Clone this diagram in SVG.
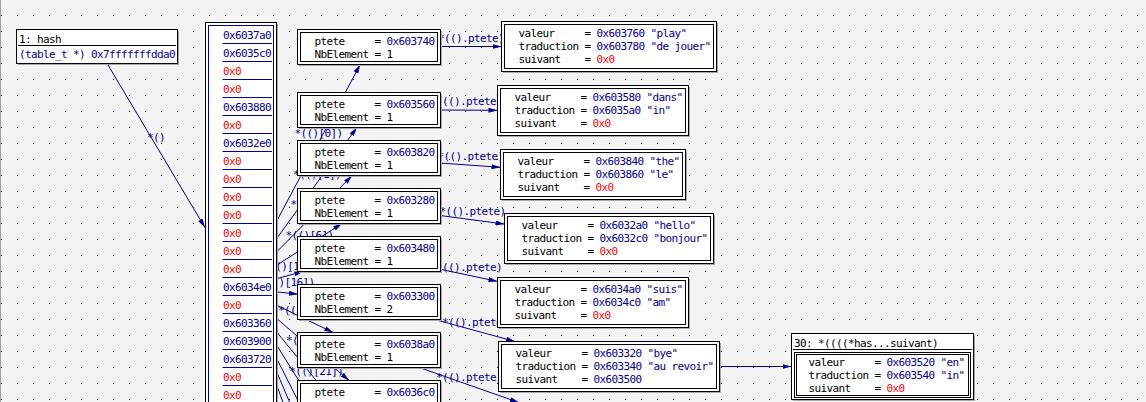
<svg xmlns="http://www.w3.org/2000/svg" width="1146" height="402" viewBox="0 0 1146 402">
<defs>
<pattern id="grid" x="1" y="15" width="16" height="16" patternUnits="userSpaceOnUse"><rect width="1" height="1" fill="#000"/></pattern>
<marker id="ah" viewBox="0 0 9 5" refX="9" refY="2.5" markerWidth="9" markerHeight="5" orient="auto" markerUnits="userSpaceOnUse"><path d="M0,0L9,2.5L0,5z" fill="#00008b"/></marker>
</defs>
<style>
.t{font-family:"DejaVu Sans Mono","Liberation Mono",monospace;font-size:11px;letter-spacing:-0.62px;white-space:pre}
.k{fill:#000}.v{fill:#00008b}.n{fill:#f00}
.e{stroke:#00008b;stroke-width:1;fill:none;marker-end:url(#ah)}
.box{fill:#fff;stroke:#000;stroke-width:1}
.sh{fill:#a8a8a8}
.in{fill:none;stroke:#000;stroke-width:1}
.sep{stroke:#00008b;stroke-width:1}
</style>
<rect width="1146" height="402" fill="#f4f4f4"/>
<rect width="1146" height="402" fill="url(#grid)"/>
<line x1="0.5" y1="0" x2="0.5" y2="402" stroke="#a0a0a0"/>

<g id="connectors">
<line class="e" x1="107.1" y1="63.5" x2="205" y2="227.6"/>
<text class="t v" x="147" y="140.5">*()</text>

<line class="e" x1="277" y1="220.5" x2="360.2" y2="64.5"/>
<line class="e" x1="277" y1="238.1" x2="356.9" y2="127.5"/>
<line class="e" x1="277" y1="251.6" x2="352.2" y2="175.5"/>
<line class="e" x1="277" y1="265" x2="342.1" y2="223.5"/>
<line class="e" x1="277" y1="278.5" x2="303.4" y2="271.5"/>
<line class="e" x1="277" y1="291.9" x2="298" y2="294.2"/>
<line class="e" x1="277" y1="305.4" x2="333.2" y2="332.5"/>
<line class="e" x1="277" y1="318.8" x2="349.1" y2="380.5"/>
<line class="e" x1="277" y1="332.3" x2="355.3" y2="428.5"/>
<line class="e" x1="277" y1="345.7" x2="358.6" y2="476.5"/>
<line class="e" x1="277" y1="359.2" x2="360.6" y2="524.5"/>
<line class="e" x1="277" y1="372.6" x2="362.1" y2="572.5"/>
<line class="e" x1="277" y1="386.1" x2="363.1" y2="620.5"/>
<text class="t v" x="294.6" y="137.2">*(()[0])</text>
<text class="t v" x="293" y="177.5">*(()[1])</text>
<text class="t v" x="290.6" y="208.3">*(()[4])</text>
<text class="t v" x="285.6" y="239">*(()[6])</text>
<text class="t v" x="263.2" y="269.7">*(()[14])</text>
<text class="t v" x="260.5" y="286">*(()[16])</text>
<text class="t v" x="278.1" y="313.7">*(()[17])</text>
<text class="t v" x="286" y="344.3">*(()[18])</text>
<text class="t v" x="289.2" y="375.1">*(()[21])</text>

<line class="e" x1="441" y1="46.5" x2="501.5" y2="46.5"/>
<line class="e" x1="441" y1="110" x2="497.5" y2="110.3"/>
<line class="e" x1="441" y1="163.1" x2="500.5" y2="167.3"/>
<line class="e" x1="441" y1="215.6" x2="504.5" y2="224.1"/>
<line class="e" x1="441" y1="269.4" x2="497.5" y2="281.4"/>
<line class="e" x1="434.8" y1="319.5" x2="515.1" y2="341.5"/>
<line class="e" x1="419.3" y1="367.5" x2="518.9" y2="402.5"/>
<line class="e" x1="719.5" y1="366.5" x2="791.5" y2="366.5"/>
<text class="t v" x="438" y="41.5">*(().ptete)</text>
<text class="t v" x="436" y="104.5">*(().ptete)</text>
<text class="t v" x="437.5" y="160">*(().ptete)</text>
<text class="t v" x="439.5" y="214.5">*(().ptete)</text>
<text class="t v" x="436" y="271">*(().ptete)</text>
<text class="t v" x="442" y="325.5">*(().ptete)</text>
<text class="t v" x="436" y="381">*(().ptete)</text>
</g>

<g id="hash">
<rect class="sh" x="18" y="31" width="161" height="34"/>
<rect class="box" x="16.5" y="29.5" width="161" height="34"/>
<line x1="18" y1="45.5" x2="176" y2="45.5" stroke="#000"/>
<text class="t k" x="19" y="42.5">1: hash</text>
<text class="t v" x="19" y="58">(table_t *) 0x7fffffffdda0</text>
</g>

<g id="array">
<rect class="sh" x="207" y="24" width="71" height="400"/>
<rect x="205.5" y="22.5" width="71" height="400" fill="#fff" stroke="#000"/>
<rect x="208.5" y="25.5" width="65" height="400" fill="none" stroke="#00008b"/>
<g class="sep">
<line x1="222.5" y1="43.5" x2="272" y2="43.5"/><line x1="222.5" y1="61.5" x2="272" y2="61.5"/><line x1="222.5" y1="79.5" x2="272" y2="79.5"/><line x1="222.5" y1="97.5" x2="272" y2="97.5"/><line x1="222.5" y1="115.5" x2="272" y2="115.5"/><line x1="222.5" y1="133.5" x2="272" y2="133.5"/><line x1="222.5" y1="151.5" x2="272" y2="151.5"/><line x1="222.5" y1="169.5" x2="272" y2="169.5"/><line x1="222.5" y1="187.5" x2="272" y2="187.5"/><line x1="222.5" y1="205.5" x2="272" y2="205.5"/><line x1="222.5" y1="223.5" x2="272" y2="223.5"/><line x1="222.5" y1="241.5" x2="272" y2="241.5"/><line x1="222.5" y1="259.5" x2="272" y2="259.5"/><line x1="222.5" y1="277.5" x2="272" y2="277.5"/><line x1="222.5" y1="295.5" x2="272" y2="295.5"/><line x1="222.5" y1="313.5" x2="272" y2="313.5"/><line x1="222.5" y1="331.5" x2="272" y2="331.5"/><line x1="222.5" y1="349.5" x2="272" y2="349.5"/><line x1="222.5" y1="367.5" x2="272" y2="367.5"/><line x1="222.5" y1="385.5" x2="272" y2="385.5"/>
</g>
<text class="t v" x="223" y="39">0x6037a0</text>
<text class="t v" x="223" y="57">0x6035c0</text>
<text class="t n" x="223" y="75">0x0</text>
<text class="t n" x="223" y="93">0x0</text>
<text class="t v" x="223" y="111">0x603880</text>
<text class="t n" x="223" y="129">0x0</text>
<text class="t v" x="223" y="147">0x6032e0</text>
<text class="t n" x="223" y="165">0x0</text>
<text class="t n" x="223" y="183">0x0</text>
<text class="t n" x="223" y="201">0x0</text>
<text class="t n" x="223" y="219">0x0</text>
<text class="t n" x="223" y="237">0x0</text>
<text class="t n" x="223" y="255">0x0</text>
<text class="t n" x="223" y="273">0x0</text>
<text class="t v" x="223" y="291">0x6034e0</text>
<text class="t n" x="223" y="309">0x0</text>
<text class="t v" x="223" y="327">0x603360</text>
<text class="t v" x="223" y="345">0x603900</text>
<text class="t v" x="223" y="363">0x603720</text>
<text class="t n" x="223" y="381">0x0</text>
<text class="t n" x="223" y="399">0x0</text>
</g>

<g id="elem0">
<rect class="sh" x="299" y="31" width="143" height="35"/><rect class="box" x="297.5" y="29.5" width="143" height="35"/><rect class="in" x="300.5" y="32.5" width="137" height="29"/>
<text class="t k" x="314.5" y="44.7">ptete</text><text class="t k" x="374.5" y="44.7">=</text><text class="t v" x="386.5" y="44.7">0x603740</text>
<text class="t k" x="314.5" y="57.7">NbElement</text><text class="t k" x="374.5" y="57.7">=</text><text class="t k" x="386.5" y="57.7">1</text>
</g>
<g id="elem1">
<rect class="sh" x="299" y="94" width="143" height="35"/><rect class="box" x="297.5" y="92.5" width="143" height="35"/><rect class="in" x="300.5" y="95.5" width="137" height="29"/>
<text class="t k" x="314.5" y="107.7">ptete</text><text class="t k" x="374.5" y="107.7">=</text><text class="t v" x="386.5" y="107.7">0x603560</text>
<text class="t k" x="314.5" y="120.7">NbElement</text><text class="t k" x="374.5" y="120.7">=</text><text class="t k" x="386.5" y="120.7">1</text>
</g>
<g id="elem4">
<rect class="sh" x="299" y="142" width="143" height="35"/><rect class="box" x="297.5" y="140.5" width="143" height="35"/><rect class="in" x="300.5" y="143.5" width="137" height="29"/>
<text class="t k" x="314.5" y="155.7">ptete</text><text class="t k" x="374.5" y="155.7">=</text><text class="t v" x="386.5" y="155.7">0x603820</text>
<text class="t k" x="314.5" y="168.7">NbElement</text><text class="t k" x="374.5" y="168.7">=</text><text class="t k" x="386.5" y="168.7">1</text>
</g>
<g id="elem6">
<rect class="sh" x="299" y="190" width="143" height="35"/><rect class="box" x="297.5" y="188.5" width="143" height="35"/><rect class="in" x="300.5" y="191.5" width="137" height="29"/>
<text class="t k" x="314.5" y="203.7">ptete</text><text class="t k" x="374.5" y="203.7">=</text><text class="t v" x="386.5" y="203.7">0x603280</text>
<text class="t k" x="314.5" y="216.7">NbElement</text><text class="t k" x="374.5" y="216.7">=</text><text class="t k" x="386.5" y="216.7">1</text>
</g>
<g id="elem14">
<rect class="sh" x="299" y="238" width="143" height="35"/><rect class="box" x="297.5" y="236.5" width="143" height="35"/><rect class="in" x="300.5" y="239.5" width="137" height="29"/>
<text class="t k" x="314.5" y="251.7">ptete</text><text class="t k" x="374.5" y="251.7">=</text><text class="t v" x="386.5" y="251.7">0x603480</text>
<text class="t k" x="314.5" y="264.7">NbElement</text><text class="t k" x="374.5" y="264.7">=</text><text class="t k" x="386.5" y="264.7">1</text>
</g>
<g id="elem16">
<rect class="sh" x="299" y="286" width="143" height="35"/><rect class="box" x="297.5" y="284.5" width="143" height="35"/><rect class="in" x="300.5" y="287.5" width="137" height="29"/>
<text class="t k" x="314.5" y="299.7">ptete</text><text class="t k" x="374.5" y="299.7">=</text><text class="t v" x="386.5" y="299.7">0x603300</text>
<text class="t k" x="314.5" y="312.7">NbElement</text><text class="t k" x="374.5" y="312.7">=</text><text class="t k" x="386.5" y="312.7">2</text>
</g>
<g id="elem17">
<rect class="sh" x="299" y="334" width="143" height="35"/><rect class="box" x="297.5" y="332.5" width="143" height="35"/><rect class="in" x="300.5" y="335.5" width="137" height="29"/>
<text class="t k" x="314.5" y="347.7">ptete</text><text class="t k" x="374.5" y="347.7">=</text><text class="t v" x="386.5" y="347.7">0x6038a0</text>
<text class="t k" x="314.5" y="360.7">NbElement</text><text class="t k" x="374.5" y="360.7">=</text><text class="t k" x="386.5" y="360.7">1</text>
</g>
<g id="elem18">
<rect class="sh" x="299" y="382" width="143" height="35"/><rect class="box" x="297.5" y="380.5" width="143" height="35"/><rect class="in" x="300.5" y="383.5" width="137" height="29"/>
<text class="t k" x="314.5" y="395.7">ptete</text><text class="t k" x="374.5" y="395.7">=</text><text class="t v" x="386.5" y="395.7">0x6036c0</text>
</g>

<g id="s1">
<rect class="sh" x="503" y="23" width="215" height="50"/><rect class="box" x="501.5" y="21.5" width="215" height="50"/><rect class="in" x="504.5" y="24.5" width="209" height="44"/>
<text class="t k" x="518.5" y="37">valeur</text><text class="t k" x="584.5" y="37">=</text><text class="t v" x="596.5" y="37">0x603760 "play"</text>
<text class="t k" x="518.5" y="50">traduction</text><text class="t k" x="584.5" y="50">=</text><text class="t v" x="596.5" y="50">0x603780 "de jouer"</text>
<text class="t k" x="518.5" y="63">suivant</text><text class="t k" x="584.5" y="63">=</text><text class="t n" x="596.5" y="63">0x0</text>
</g>
<g id="s2">
<rect class="sh" x="499" y="87" width="191" height="50"/><rect class="box" x="497.5" y="85.5" width="191" height="50"/><rect class="in" x="500.5" y="88.5" width="185" height="44"/>
<text class="t k" x="514.5" y="101">valeur</text><text class="t k" x="580.5" y="101">=</text><text class="t v" x="592.5" y="101">0x603580 "dans"</text>
<text class="t k" x="514.5" y="114">traduction</text><text class="t k" x="580.5" y="114">=</text><text class="t v" x="592.5" y="114">0x6035a0 "in"</text>
<text class="t k" x="514.5" y="127">suivant</text><text class="t k" x="580.5" y="127">=</text><text class="t n" x="592.5" y="127">0x0</text>
</g>
<g id="s3">
<rect class="sh" x="502" y="151" width="185" height="50"/><rect class="box" x="500.5" y="149.5" width="185" height="50"/><rect class="in" x="503.5" y="152.5" width="179" height="44"/>
<text class="t k" x="517.5" y="165">valeur</text><text class="t k" x="583.5" y="165">=</text><text class="t v" x="595.5" y="165">0x603840 "the"</text>
<text class="t k" x="517.5" y="178">traduction</text><text class="t k" x="583.5" y="178">=</text><text class="t v" x="595.5" y="178">0x603860 "le"</text>
<text class="t k" x="517.5" y="191">suivant</text><text class="t k" x="583.5" y="191">=</text><text class="t n" x="595.5" y="191">0x0</text>
</g>
<g id="s4">
<rect class="sh" x="506" y="215" width="209" height="50"/><rect class="box" x="504.5" y="213.5" width="209" height="50"/><rect class="in" x="507.5" y="216.5" width="203" height="44"/>
<text class="t k" x="521.5" y="229">valeur</text><text class="t k" x="587.5" y="229">=</text><text class="t v" x="599.5" y="229">0x6032a0 "hello"</text>
<text class="t k" x="521.5" y="242">traduction</text><text class="t k" x="587.5" y="242">=</text><text class="t v" x="599.5" y="242">0x6032c0 "bonjour"</text>
<text class="t k" x="521.5" y="255">suivant</text><text class="t k" x="587.5" y="255">=</text><text class="t n" x="599.5" y="255">0x0</text>
</g>
<g id="s5">
<rect class="sh" x="499" y="279" width="191" height="50"/><rect class="box" x="497.5" y="277.5" width="191" height="50"/><rect class="in" x="500.5" y="280.5" width="185" height="44"/>
<text class="t k" x="514.5" y="293">valeur</text><text class="t k" x="580.5" y="293">=</text><text class="t v" x="592.5" y="293">0x6034a0 "suis"</text>
<text class="t k" x="514.5" y="306">traduction</text><text class="t k" x="580.5" y="306">=</text><text class="t v" x="592.5" y="306">0x6034c0 "am"</text>
<text class="t k" x="514.5" y="319">suivant</text><text class="t k" x="580.5" y="319">=</text><text class="t n" x="592.5" y="319">0x0</text>
</g>
<g id="s6">
<rect class="sh" x="500" y="343" width="221" height="50"/><rect class="box" x="498.5" y="341.5" width="221" height="50"/><rect class="in" x="501.5" y="344.5" width="215" height="44"/>
<text class="t k" x="515.5" y="357">valeur</text><text class="t k" x="581.5" y="357">=</text><text class="t v" x="593.5" y="357">0x603320 "bye"</text>
<text class="t k" x="515.5" y="370">traduction</text><text class="t k" x="581.5" y="370">=</text><text class="t v" x="593.5" y="370">0x603340 "au revoir"</text>
<text class="t k" x="515.5" y="383">suivant</text><text class="t k" x="581.5" y="383">=</text><text class="t v" x="593.5" y="383">0x603500</text>
</g>
<g id="d30">
<rect class="sh" x="793" y="335" width="182" height="66"/><rect class="box" x="791.5" y="333.5" width="182" height="66"/>
<text class="t k" x="794" y="346.5">30: *((((*has...suivant)</text>
<line x1="793" y1="349.5" x2="972" y2="349.5" stroke="#000"/>
<rect class="in" x="794.5" y="352.5" width="176" height="45"/><rect class="in" x="796.5" y="354.5" width="172" height="41"/>
<text class="t k" x="808.5" y="365.5">valeur</text><text class="t k" x="874.5" y="365.5">=</text><text class="t v" x="886.5" y="365.5">0x603520 "en"</text>
<text class="t k" x="808.5" y="378.5">traduction</text><text class="t k" x="874.5" y="378.5">=</text><text class="t v" x="886.5" y="378.5">0x603540 "in"</text>
<text class="t k" x="808.5" y="391.5">suivant</text><text class="t k" x="874.5" y="391.5">=</text><text class="t n" x="886.5" y="391.5">0x0</text>
</g>
</svg>
